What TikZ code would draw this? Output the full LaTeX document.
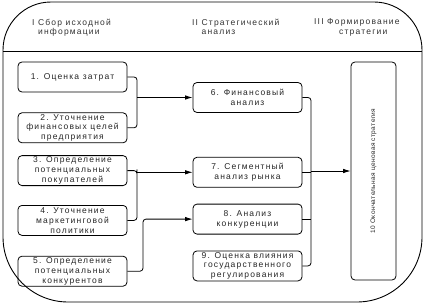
\documentclass[tikz,border=0pt]{standalone}
\usepackage{fontspec}
\setmainfont{Liberation Sans}
\newfontfamily\boxfont[LetterSpace=14]{Liberation Sans}
\newfontfamily\stratfont[LetterSpace=6]{Liberation Sans}
\usepackage{tikz}
\usetikzlibrary{
    arrows.meta,
    positioning
}

\begin{document}
\begin{tikzpicture}[
x=1pt, y=1pt,
font=\boxfont\fontsize{8.5}{9.8}\selectfont,
box/.style={
draw,
rounded corners=4pt,
line width=0.8pt,
minimum width=109pt,
minimum height=30pt,
inner sep=1pt,
align=center,
text=black!85
},
head/.style={
anchor=north west,
inner sep=0pt,
align=left,
text=black!80
},
link/.style={
line width=0.8pt,
rounded corners=3pt
},
arrow/.style={
link,
-{Latex[length=7.5pt, width=4.5pt]}
}
]

\useasboundingbox (0,0) rectangle (425,-305);

% frame
\draw[line width=0.9pt] (3,-160)
[rounded corners=48pt] |- (212,-2) -| (422,-160)
[rounded corners=65pt] |- (212,-302) -| (3,-160) -- cycle;
\draw[line width=0.9pt] (3,-51) -- (422,-51);

% stages
\node[head] (stage1) at (32,-18.5)
{I Сбор исходной\\\hphantom{I }информации};
\node[head] (stage2) at (192,-18.5)
{II Стратегический\\\hphantom{II }анализ};
\node[head] (stage3) at (314,-18.5)
{III Формирование\\\hspace*{25pt}стратегии};

% column I
\node[box] (cost) at (72.5,-77)
{1. Оценка затрат};

\node[box, below=20pt of cost] (fingoal)
{2. Уточнение\\финансовых целей\\предприятия};

\node[box, below=12pt of fingoal] (buyers)
{3. Определение\\потенциальных\\покупателей};

\node[box, below=19pt of buyers] (mkt)
{4. Уточнение\\маркетинговой\\политики};

\node[box, below=20pt of mkt] (rivals)
{5. Определение\\потенциальных\\конкурентов};

% column II
\node[box] (finan) at (247.5,-97.5)
{6. Финансовый\\анализ};

\node[box, below=44pt of finan] (segm)
{7. Сегментный\\анализ рынка};

\node[box, below=16pt of segm] (compet)
{8. Анализ\\конкуренции};

\node[box, below=16pt of compet] (gov)
{9. Оценка влияния\\государственного\\регулирования};

% column III (rotated: north points left)
\node[box, rotate=90, minimum width=218pt,
minimum height=45pt,
font=\stratfont\fontsize{6.5}{8}\selectfont] (strat) at (373.5,-171)
{10 Окончательная ценовая стратегия};

\coordinate (colA) at (137,0);
\coordinate (colB) at (143,0);
\coordinate (colC) at (311,0);

% I -> II
\draw[link] (cost.east) -| (finan.west -| colA)
|- (fingoal.east);
\draw[arrow] (finan.west -| colA) -- (finan.west);

\draw[link] (buyers.east) -| (segm.west -| colA)
|- (mkt.east);
\draw[arrow] (segm.west -| colA) -- (segm.west);

\draw[arrow] (rivals.east) -| (compet.west -| colB)
-- (compet.west);

% II -> III
\draw[link] (finan.east) -| (gov.east -| colC)
-- (gov.east);
\draw[link] (segm.east) -- (segm.east -| colC);
\draw[link] (compet.east) -- (compet.east -| colC);
\draw[arrow] (strat.north -| colC) -- (strat.north);

\end{tikzpicture}
\end{document}
